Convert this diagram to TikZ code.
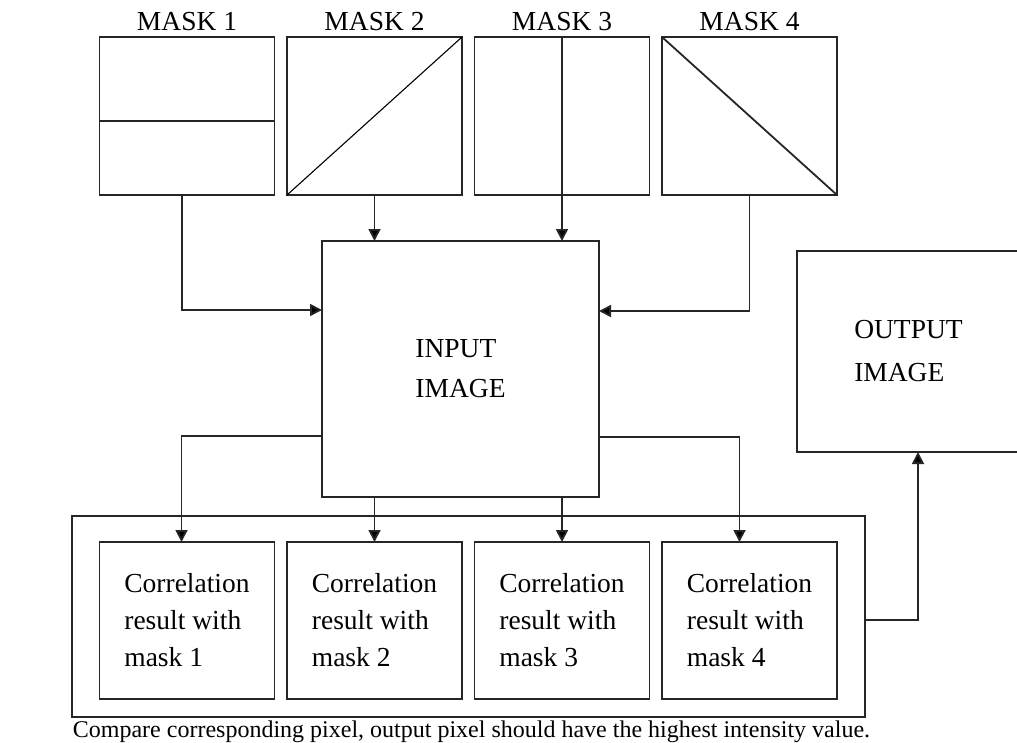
\documentclass[tikz,border=0pt]{standalone}
\usepackage{fontspec}
\setmainfont{Liberation Serif}
\usetikzlibrary{arrows.meta,positioning}
\tikzset{
  eline/.style={draw=black!85,line width=1.8pt},
  mbox/.style={eline,minimum width=175pt,minimum height=158pt,inner sep=0pt,outer sep=0pt},
  mlabel/.style={inner sep=0pt,font=\fontsize{27.5}{33}\selectfont},
  cbox/.style={eline,minimum width=175pt,minimum height=157pt,inner sep=0pt,outer sep=0pt,
    align=left,font=\fontsize{27.5}{37}\selectfont},
  ibox/.style={eline,inner sep=0pt,outer sep=0pt,align=left,font=\fontsize{27.5}{40}\selectfont},
  eflow/.style={eline,-{Triangle[length=12pt,width=12pt,fill=black]}},
}
\begin{document}
\begin{tikzpicture}[x=1pt,y=-1pt]
\fill[white] (0,0) rectangle (1017,742);
\useasboundingbox (0,0) rectangle (1017,742);
% masks
\node[mbox] (m1) at (187,116) {};
\node[mbox,right=12.5pt of m1] (m2) {};
\node[mbox,right=12.5pt of m2] (m3) {};
\node[mbox,right=12.5pt of m3] (m4) {};
\node[mlabel,above=6pt of m1] (l1) {MASK 1};
\node[mlabel,above=6pt of m2] (l2) {MASK 2};
\node[mlabel,above=6pt of m3] (l3) {MASK 3};
\node[mlabel,above=6pt of m4] (l4) {MASK 4};
\draw[eline] ([yshift=-5pt]m1.west) -- ([yshift=-5pt]m1.east);
\draw[black,line width=1.1pt] (m2.south west) -- (m2.north east);
\draw[eline] (m4.north west) -- (m4.south east);
% images
\node[ibox,minimum width=277pt,minimum height=256pt] (inimg) at (460.5,369) {INPUT\\IMAGE};
\node[ibox,minimum width=223pt,minimum height=201pt,font=\fontsize{27.5}{43}\selectfont] (outimg) at (908.5,351.5) {OUTPUT\\IMAGE};
% correlation results
\node[eline,minimum width=793pt,minimum height=201pt,inner sep=0pt,outer sep=0pt] (res) at (468.5,616.5) {};
\node[cbox] (c1) at (187,620.5) {Correlation\\result with\\mask 1};
\node[cbox,right=12.5pt of c1] (c2) {Correlation\\result with\\mask 2};
\node[cbox,right=12.5pt of c2] (c3) {Correlation\\result with\\mask 3};
\node[cbox,right=12.5pt of c3] (c4) {Correlation\\result with\\mask 4};
\node[inner sep=0pt,font=\fontsize{24}{28}\selectfont] (note) at (471.5,732)
  {Compare corresponding pixel, output pixel should have the highest intensity value.};
% connectors
\draw[eflow] (m3.north) -- (m3.north |- inimg.north);
\draw[eflow] (m2.south) -- (m2.south |- inimg.north);
\draw[eflow] ([xshift=-5pt]m1.south) |- ([yshift=59pt]inimg.west);
\draw[eflow] (m4.south) |- ([yshift=58pt]inimg.east);
\draw[eflow] ([yshift=-67pt]inimg.west) -| ([xshift=-5.5pt]c1.north);
\draw[eflow] (inimg.south -| c2.north) -- (c2.north);
\draw[eflow] (inimg.south -| c3.north) -- (c3.north);
\draw[eflow] ([yshift=-68pt]inimg.east) -| ([xshift=-10pt]c4.north);
\draw[eflow] ([yshift=-3.5pt]res.east) -| ([xshift=9.5pt]outimg.south);
\end{tikzpicture}
\end{document}
